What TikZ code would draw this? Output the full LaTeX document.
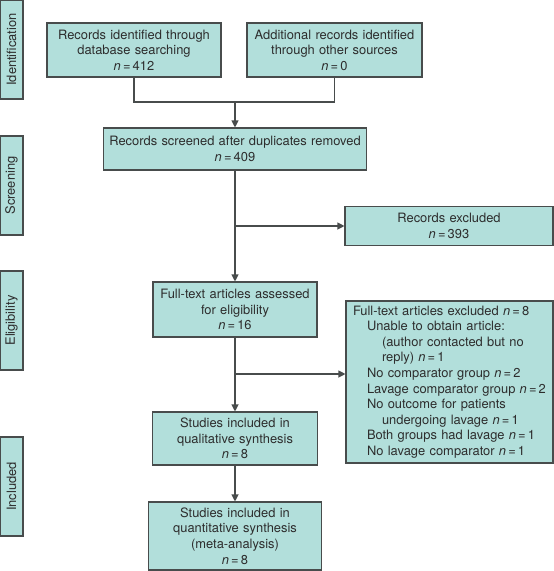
\documentclass[tikz,border=0pt]{standalone}
\usepackage{fontspec}
\setmainfont{TeX Gyre Heros}
\usetikzlibrary{shapes.geometric, arrows.meta}

\definecolor{boxfill}{RGB}{178,223,219}
\definecolor{boxline}{RGB}{72,76,76}
\definecolor{textcol}{RGB}{45,45,45}
\newcommand{\boxfont}{\fontsize{12.9}{15.6}\selectfont}
\newcommand{\ncount}[1]{\textit{n}\,=\,#1}

\tikzstyle{stage} = [rectangle, draw=boxline, fill=boxfill, line width=1.1pt, text=textcol, font=\boxfont, rotate=90, minimum width=99pt, minimum height=23pt, inner sep=0pt]
\tikzstyle{process} = [rectangle, draw=boxline, fill=boxfill, line width=1.1pt, text=textcol, font=\boxfont, align=center, inner sep=0pt]
\tikzstyle{line} = [draw=boxline, line width=1.1pt]
\tikzstyle{arrow} = [line, ->, >={Triangle[length=7pt,width=7pt]}]

\begin{document}
\begin{tikzpicture}[x=1pt, y=-1pt]
\useasboundingbox (0,0) rectangle (554,571);

\node (ident) [stage] at (11.5,49.5) {Identification};
\node (screen) [stage] at (11.5,185.5) {Screening};
\node (elig) [stage] at (11.5,320.5) {Eligibility};
\node (incl) [stage] at (11.5,486.5) {Included};

\node (database) [process, text width=174pt, minimum height=54pt] at (134,50) {Records identified through\\database searching\\\ncount{412}};
\node (other) [process, text width=175pt, minimum height=54pt] at (334.5,50) {Additional records identified\\through other sources\\\ncount{0}};
\node (screened) [process, text width=263pt, minimum height=42pt] at (235,149) {Records screened after duplicates removed\\\ncount{409}};
\node (excluded) [process, text width=208pt, minimum height=39pt] at (449,226) {Records excluded\\\ncount{393}};
\node (fulltext) [process, text width=164pt, minimum height=55pt] at (235,309.5) {Full-text articles assessed\\for eligibility\\\ncount{16}};
\node (ftexcluded) [process, align=left, text width=193pt, inner xsep=7pt, minimum height=162pt] at (449.5,382) {Full-text articles excluded \ncount{8}\\
\hspace*{14pt}Unable to obtain article:\\
\hspace*{29pt}(author contacted but no\\
\hspace*{29pt}reply) \ncount{1}\\
\hspace*{14pt}No comparator group \ncount{2}\\
\hspace*{14pt}Lavage comparator group \ncount{2}\\
\hspace*{14pt}No outcome for patients\\
\hspace*{29pt}undergoing lavage \ncount{1}\\
\hspace*{14pt}Both groups had lavage \ncount{1}\\
\hspace*{14pt}No lavage comparator \ncount{1}};
\node (qualitative) [process, text width=165pt, minimum height=53pt] at (235,438.5) {Studies included in\\qualitative synthesis\\\ncount{8}};
\node (quantitative) [process, text width=173pt, minimum height=68pt] at (235,536) {Studies included in\\quantitative synthesis\\(meta-analysis)\\\ncount{8}};

\coordinate (join) at (235,102);
\coordinate (split1) at (235,226);
\coordinate (split2) at (235,374);

\draw [line] (database.south) |- (join);
\draw [line] (other.south) |- (join);
\draw [arrow] (join) -- (screened);
\draw [arrow] (screened) -- (fulltext);
\draw [arrow] (split1) -- (excluded.west);
\draw [arrow] (fulltext) -- (qualitative);
\draw [arrow] (split2) -- (ftexcluded.west |- split2);
\draw [arrow] (qualitative) -- (quantitative);

\end{tikzpicture}
\end{document}
